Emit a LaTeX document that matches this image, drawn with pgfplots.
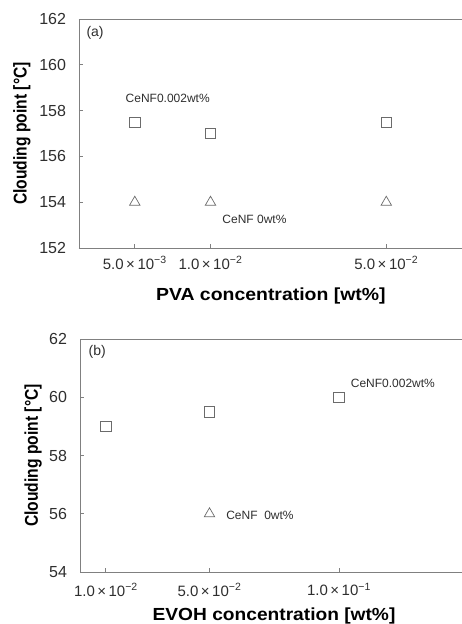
\documentclass[border=0pt]{standalone}
\usepackage{fontspec}
\setmainfont{Liberation Sans}
\usepackage{pgfplots}
\pgfplotsset{compat=1.18}

\definecolor{mk}{gray}{0.42}
\definecolor{ax}{gray}{0.5}
\definecolor{txt}{gray}{0.18}

\tikzset{note/.style={font=\fontsize{12}{12}\selectfont, text=txt}}
\pgfplotsset{
  panel/.style={
    scale only axis,
    axis x line*=box, axis y line*=left,
    axis line style={ax, line width=0.8pt},
    tick style={ax, line width=0.8pt},
    tick align=inside, major tick length=4pt,
    xtick pos=bottom, ytick pos=left,
    xminorticks=false, yminorticks=false,
    clip=false,
    yticklabel style={font=\fontsize{16}{16}\selectfont, text=txt, xshift=-9.5pt},
    xticklabel style={font=\fontsize{15}{15}\selectfont, text=txt},
    xlabel style={font=\bfseries\fontsize{17.5}{18}\selectfont},
    ylabel style={font=\bfseries\fontsize{18.5}{19}\selectfont},
    /pgf/number format/assume math mode=true,
  },
  sq/.style={only marks, mark=square, mark size=5.2pt, mk, mark options={line width=0.7pt}},
  tri/.style={only marks, mark=triangle, mark size=6pt, mk, mark options={line width=0.7pt}},
}

\begin{document}
\begin{tikzpicture}
\path[use as bounding box] (0pt,0pt) rectangle (462pt,-624pt);

% (a) PVA
\begin{axis}[panel,
  at={(79pt,-248pt)}, anchor=south west,
  width=383pt, height=229pt,
  xmode=log, xmin=0.003, xmax=0.1,
  ymin=152, ymax=162, ytick={152,154,...,162},
  xtick={0.005,0.01,0.05},
  xticklabels={5.0\,×\,10\textsuperscript{−3},1.0\,×\,10\textsuperscript{−2},5.0\,×\,10\textsuperscript{−2}},
  xticklabel style={yshift=-5pt},
  xlabel={\scalebox{1.11}[1]{PVA concentration [wt\%]}},
  ylabel={\scalebox{0.845}[1]{Clouding point [°C]}},
  xlabel style={at={(axis description cs:0.501,-0.21)}, anchor=center},
  ylabel style={at={(axis description cs:-0.149,0.5)}, anchor=center},
]
\addplot[sq] coordinates {(0.005,157.5) (0.01,157.0) (0.05,157.5)};
\addplot[tri] coordinates {(0.005,154.0) (0.01,154.0) (0.05,154.0)};
\node[note] at (axis cs:0.00676,158.55) {CeNF0.002wt\%};
\node[note] at (axis cs:0.01496,153.27) {CeNF 0wt\%};
\node[font=\fontsize{14}{14}\selectfont, text=txt] at (rel axis cs:0.042,0.939) {(a)};
\end{axis}

% (b) EVOH
\begin{axis}[panel,
  at={(80pt,-572pt)}, anchor=south west,
  width=382pt, height=233pt,
  xmin=0, xmax=0.1475,
  ymin=54, ymax=62, ytick={54,56,...,62},
  xtick={0.01,0.05,0.1},
  xticklabels={1.0\,×\,10\textsuperscript{−2},5.0\,×\,10\textsuperscript{−2},1.0\,×\,10\textsuperscript{−1}},
  xticklabel style={yshift=-8pt},
  xlabel={\scalebox{1.095}[1]{EVOH concentration [wt\%]}},
  ylabel={\scalebox{0.845}[1]{Clouding point [°C]}},
  xlabel style={at={(axis description cs:0.508,-0.189)}, anchor=center},
  ylabel style={at={(axis description cs:-0.123,0.5)}, anchor=center},
]
\addplot[sq] coordinates {(0.01,59.0) (0.05,59.5) (0.1,60.0)};
\addplot[tri] coordinates {(0.05,56.0)};
\node[note] at (axis cs:0.1208,60.49) {CeNF0.002wt\%};
\node[note] at (axis cs:0.0695,55.95) {CeNF\ \ 0wt\%};
\node[font=\fontsize{14}{14}\selectfont, text=txt] at (rel axis cs:0.045,0.944) {(b)};
\end{axis}
\end{tikzpicture}
\end{document}
